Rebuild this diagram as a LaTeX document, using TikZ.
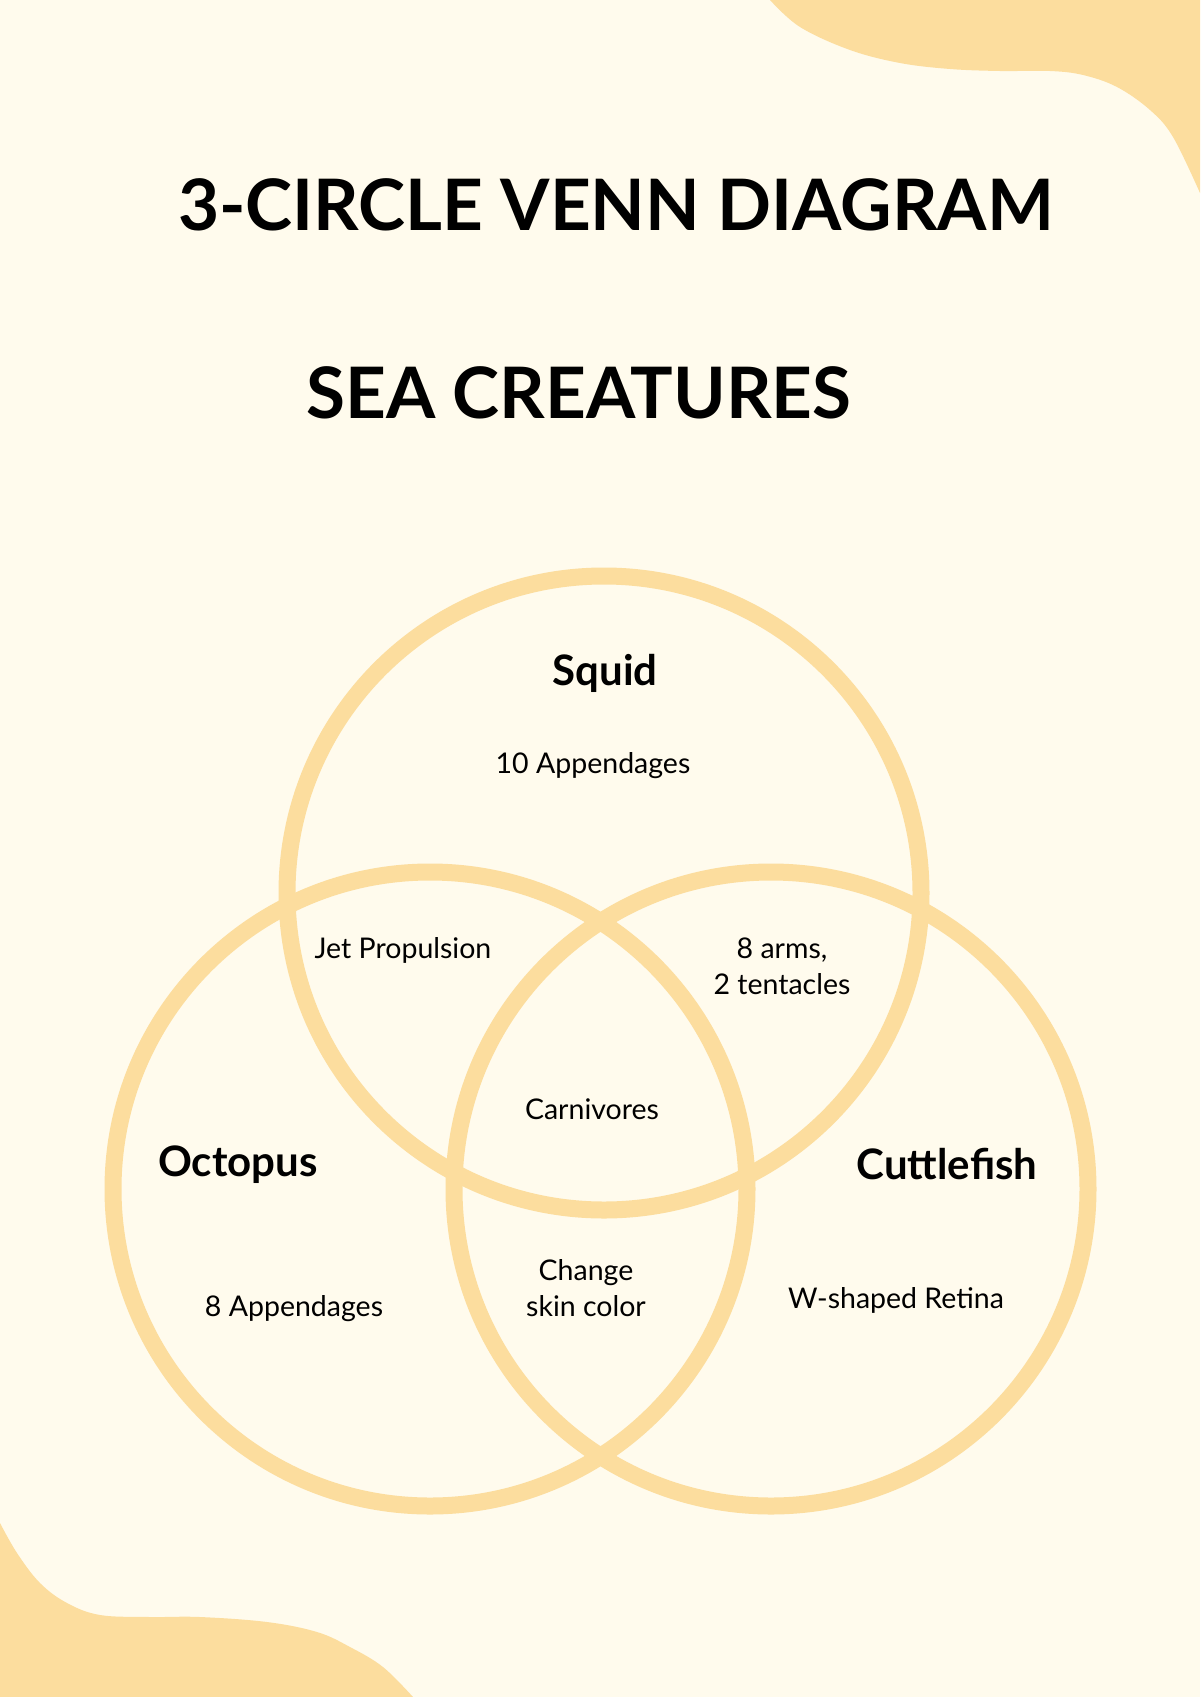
\documentclass[tikz,border=0pt]{standalone}
\usepackage{fontspec}
\setmainfont{Lato}
\definecolor{cream}{HTML}{FFFBED}
\definecolor{sand}{HTML}{FCDD9E}
\begin{document}
\begin{tikzpicture}[x=1pt,y=-1pt,
    ring/.style={draw=sand,line width=17pt},
    title/.style={anchor=base,font=\fontsize{71}{80}\selectfont\bfseries},
    setname/.style={anchor=base,font=\fontsize{42}{48}\selectfont\bfseries},
    fact/.style={anchor=base,align=center,font=\fontsize{28.5}{36}\selectfont}]
    \useasboundingbox (0,0) rectangle (1200,1697);
    \fill[cream] (0,0) rectangle (1200,1697);
    % corner blobs
    \fill[sand] plot[smooth,tension=0.6] coordinates {(770,0) (800,27) (850,50) (900,63) (950,69)
        (1000,71) (1050,71) (1083,75) (1117,87) (1150,110) (1173,137) (1200,193)} -- (1200,0) -- cycle;
    \fill[sand] plot[smooth,tension=0.6] coordinates {(0,1523) (17,1553) (40,1583) (67,1603) (100,1615)
        (150,1617) (200,1617) (267,1622) (317,1632) (350,1647) (383,1667) (413,1697)} -- (0,1697) -- cycle;
    % circles
    \draw[ring] (604,893) circle (317pt);
    \draw[ring] (430,1189) circle (317pt);
    \draw[ring] (771,1189) circle (317pt);
    % titles
    \node[title] (head) at (616,230) {3-CIRCLE VENN DIAGRAM};
    \node[title] (sub) at (579,418) {SEA CREATURES};
    % set names
    \node[setname] (squid) at (605,685) {Squid};
    \node[setname] (octopus) at (238,1176) {Octopus};
    \node[setname] (cuttle) at (947,1179) {Cuttlefish};
    % region texts (base = last line)
    \node[fact] (sq) at (593,773) {10 Appendages};
    \node[fact] (oc) at (294,1316) {8 Appendages};
    \node[fact] (cu) at (896,1308) {W-shaped Retina};
    \node[fact] (sqoc) at (403,958) {Jet Propulsion};
    \node[fact] (sqcu) at (782,994) {8 arms,\\2 tentacles};
    \node[fact] (occu) at (586,1316) {Change\\skin color};
    \node[fact] (all) at (592,1119) {Carnivores};
\end{tikzpicture}
\end{document}
